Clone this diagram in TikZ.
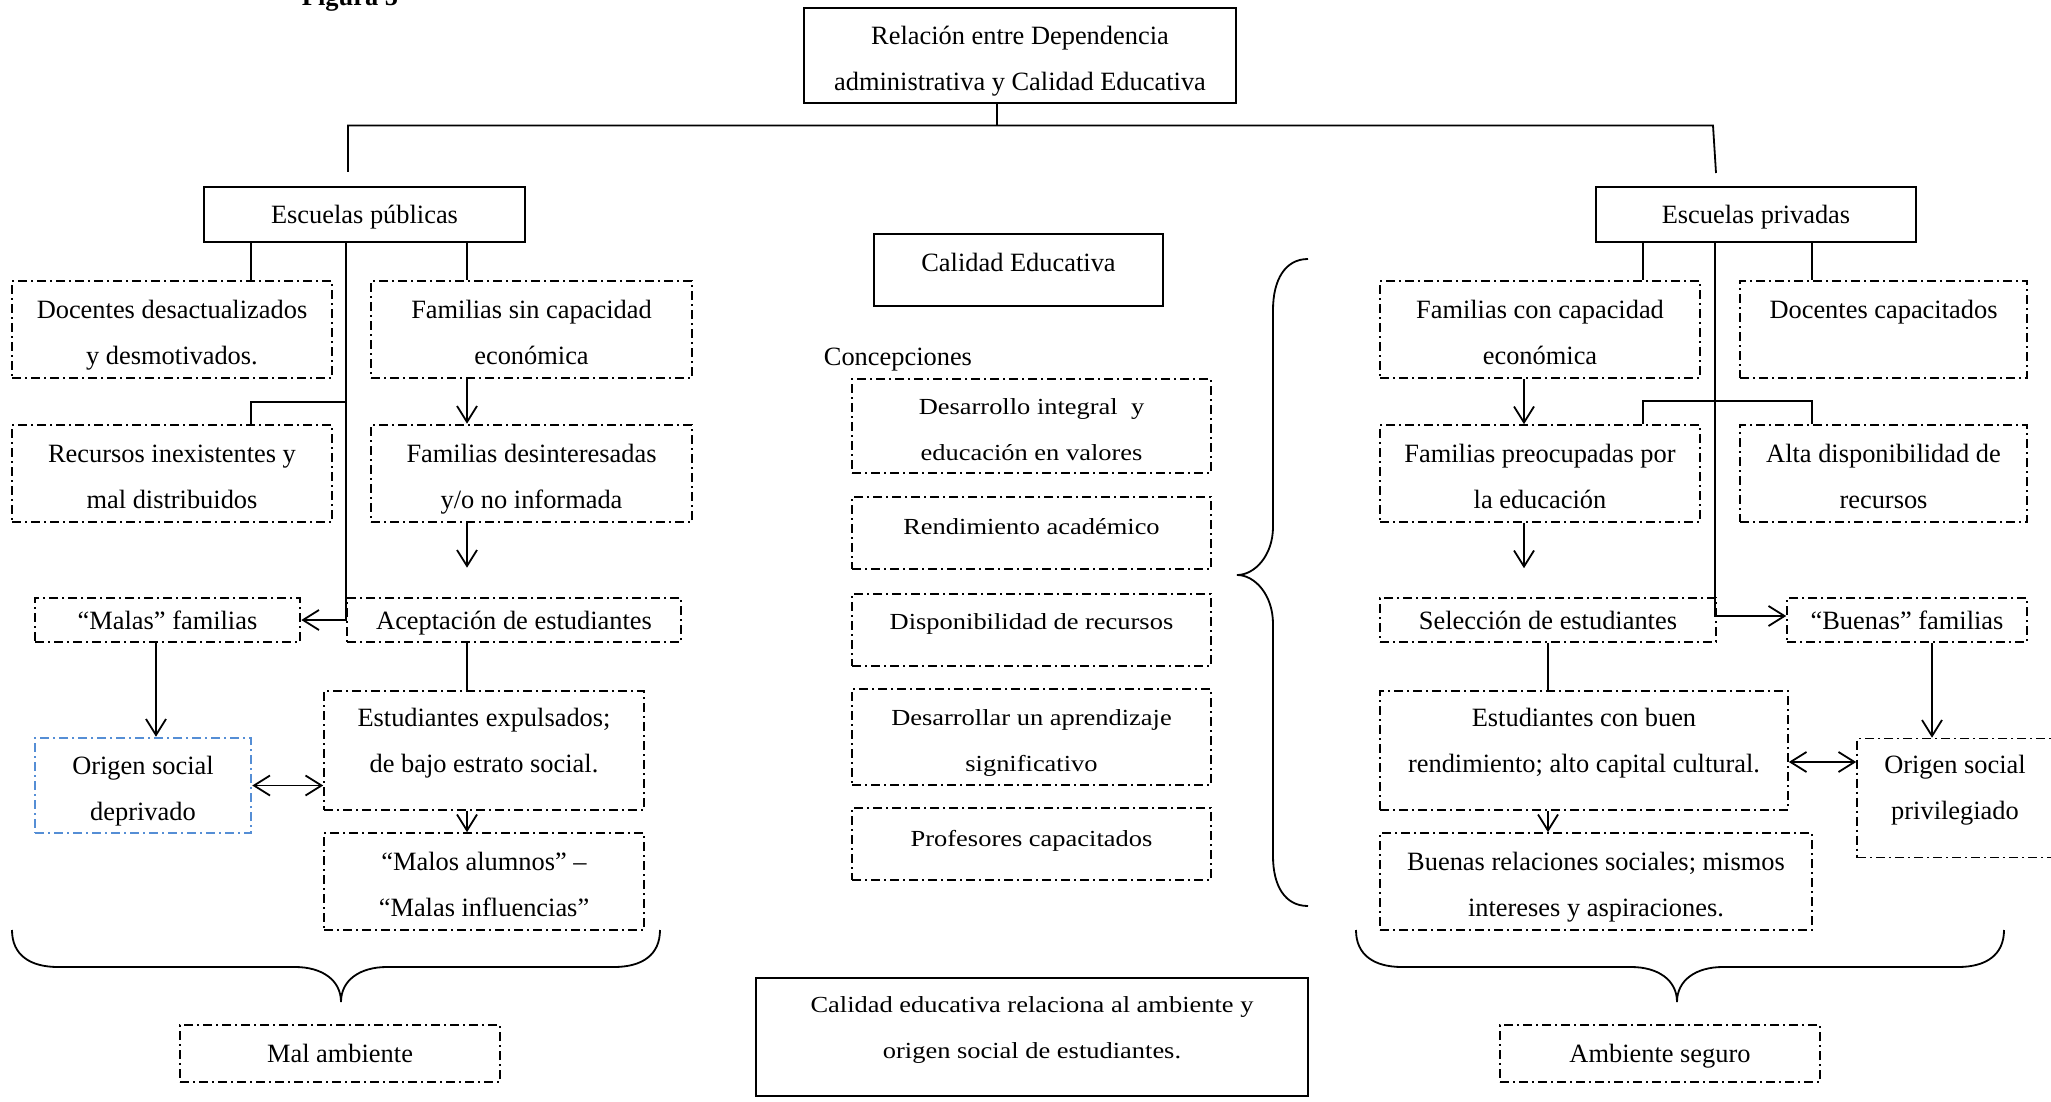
\documentclass[tikz,border=0pt]{standalone}
\usepackage{fontspec}
\setmainfont{Liberation Serif}
\newfontfamily\widefont[FakeStretch=1.15]{Liberation Serif}
\usetikzlibrary{arrows.meta,calc,positioning}
\definecolor{origblue}{RGB}{85,142,213}
\newcommand\boxup{\rule{0pt}{14.8pt}}
\newcommand\boxdn{\rule[-3pt]{0pt}{3pt}}
\tikzstyle{solidbox} = [rectangle, draw, line width=1pt, align=center, inner sep=0pt]
\tikzstyle{darkdash} = [rectangle, draw, line width=1.3pt, align=center, inner sep=0pt,
    dash pattern=on 4.5pt off 2pt on 1pt off 2pt]
\tikzstyle{lightdash} = [rectangle, draw, line width=0.8pt, align=center, inner sep=0pt,
    dash pattern=on 4.5pt off 2pt on 1pt off 2pt]
\tikzstyle{bluedash} = [darkdash, draw=origblue]
\tikzstyle{widetext} = [font=\widefont\fontsize{11.5}{23}\selectfont]
\tikzstyle{oneline} = [text height=12.2pt, text depth=3pt]

\begin{document}
\begin{tikzpicture}[x=0.5pt, y=-0.5pt, line width=0.9pt,
                    >={Straight Barb[length=8pt,width=10pt]},
                    font=\fontsize{13.2}{23}\selectfont]
  \useasboundingbox (0,0) rectangle (2051,1102);

  \node[anchor=base, font=\bfseries\fontsize{13.2}{23}\selectfont] (fig) at (350,6) {Figura 5};
  \node[solidbox, minimum width=216pt, minimum height=47.5pt] (rel) at (1020,55.5)
       {\boxup Relación entre Dependencia\\administrativa y Calidad Educativa\boxdn};
  \node[solidbox, oneline, minimum width=160.5pt, minimum height=27.5pt] (pub) at (364.5,214.5) {Escuelas públicas};
  \node[solidbox, oneline, minimum width=160pt, minimum height=27.5pt] (priv) at (1756,214.5) {Escuelas privadas};
  \node[solidbox, minimum width=144.5pt, minimum height=36pt, text height=9pt, text depth=8pt]
       (cal) at (1018.5,270) {Calidad Educativa};

  \node[darkdash, minimum width=160pt, minimum height=48.5pt] (doc) at (172,329.5)
       {\boxup Docentes desactualizados\\y desmotivados.\boxdn};
  \node[darkdash, minimum width=160pt, minimum height=48.5pt] (rec) [node distance=72pt, below of=doc]
       {\boxup Recursos inexistentes y\\mal distribuidos\boxdn};
  \node[darkdash, minimum width=160.5pt, minimum height=48.5pt] (fsc) at (531.5,329.5)
       {\boxup Familias sin capacidad\\económica\boxdn};
  \node[darkdash, minimum width=160.5pt, minimum height=48.5pt] (fdes) [node distance=72pt, below of=fsc]
       {\boxup Familias desinteresadas\\y/o no informada\boxdn};
  \node[darkdash, oneline, minimum width=132.5pt, minimum height=22pt] (malas) at (167.5,620) {“Malas” familias};
  \node[darkdash, oneline, minimum width=167pt, minimum height=22pt] (acep) at (514,620) {Aceptación de estudiantes};
  \node[bluedash, minimum width=108pt, minimum height=47.5pt] (orig) at (143,785.5)
       {\boxup Origen social\\deprivado\boxdn};
  \node[lightdash, minimum width=160pt, minimum height=59.5pt] (expul) at (484,750.5)
       {\boxup Estudiantes expulsados;\\de bajo estrato social.\\[-10pt]\boxdn};
  \node[lightdash, minimum width=160pt, minimum height=48.5pt] (malos) [node distance=65.5pt, below of=expul]
       {\boxup “Malos alumnos” –\\“Malas influencias”\boxdn};
  \node[darkdash, oneline, minimum width=160pt, minimum height=28.5pt] (malamb) at (340,1053.5) {Mal ambiente};

  \node[anchor=west, inner sep=0pt] (conc) at (823,360) {Concepciones};
  \node[lightdash, widetext, minimum width=179.5pt, minimum height=47pt] (d1) at (1031.5,426)
       {\boxup Desarrollo integral~ y\\educación en valores\boxdn};
  \node[lightdash, widetext, minimum width=179.5pt, minimum height=36pt, text height=8pt, text depth=7pt]
       (d2) [node distance=53.5pt, below of=d1] {Rendimiento académico};
  \node[lightdash, widetext, minimum width=179.5pt, minimum height=36pt, text height=8pt, text depth=9pt]
       (d3) [node distance=48.5pt, below of=d2] {Disponibilidad de recursos};
  \node[lightdash, widetext, minimum width=179.5pt, minimum height=48pt] (d4) [node distance=53.5pt, below of=d3]
       {\boxup Desarrollar un aprendizaje\\significativo\boxdn};
  \node[lightdash, widetext, minimum width=179.5pt, minimum height=36pt, text height=8pt, text depth=6pt]
       (d5) [node distance=53.5pt, below of=d4] {Profesores capacitados};
  \node[solidbox, widetext, minimum width=276pt, minimum height=59pt] (fin) at (1032,1037)
       {\boxup Calidad educativa relaciona al ambiente y\\origen social de estudiantes.\\[-10pt]\boxdn};

  \node[lightdash, minimum width=160pt, minimum height=48.5pt] (fcc) at (1540,329.5)
       {\boxup Familias con capacidad\\económica\boxdn};
  \node[lightdash, minimum width=143.5pt, minimum height=48.5pt] (dcap) at (1883.5,329.5)
       {\boxup Docentes capacitados\\\boxdn};
  \node[lightdash, minimum width=160pt, minimum height=48.5pt] (fpre) [node distance=72pt, below of=fcc]
       {\boxup Familias preocupadas por\\la educación\boxdn};
  \node[lightdash, minimum width=143.5pt, minimum height=48.5pt] (alta) [node distance=72pt, below of=dcap]
       {\boxup Alta disponibilidad de\\recursos\boxdn};
  \node[lightdash, oneline, minimum width=168pt, minimum height=22pt] (sel) at (1548,620) {Selección de estudiantes};
  \node[lightdash, oneline, minimum width=120pt, minimum height=22pt] (buenas) at (1907,620) {“Buenas” familias};
  \node[lightdash, minimum width=204pt, minimum height=59.5pt] (econ) at (1584,750.5)
       {\boxup Estudiantes con buen\\rendimiento; alto capital cultural.\\[-10pt]\boxdn};
  \node[lightdash, minimum width=98pt, minimum height=59.5pt] (origp) at (1955,798)
       {\boxup Origen social\\privilegiado\\[-10pt]\boxdn};
  \node[lightdash, minimum width=216pt, minimum height=48.5pt] (brel) at (1596,881.5)
       {\boxup Buenas relaciones sociales; mismos\\intereses y aspiraciones.\boxdn};
  \node[lightdash, oneline, minimum width=160pt, minimum height=28.5pt] (amb) at (1660,1053.5) {Ambiente seguro};

  \coordinate (hub) at (997,125.5);
  \coordinate (ltop) at (348,172);
  \coordinate (rbend) at (1713,125.5);
  \coordinate (rtop) at (1716,173);
  \draw (hub |- rel.south) -- (hub);
  \draw (ltop) -- (ltop |- hub) -- (rbend) -- (rtop);

  \coordinate (lb) at ($(doc.north)+(79,0)$);
  \coordinate (rb) at ($(fsc.north)+(-64.5,0)$);
  \coordinate (mb) at ($(malas.south)+(-11.5,0)$);
  \draw (lb |- pub.south) -- (lb);
  \draw (rb |- pub.south) -- (rb);
  \draw[->] (pub.south -| acep.west) -- (acep.west |- malas.east) -- (malas.east);
  \draw ($(acep.west |- rec.north)+(0,-22)$) -| (lb |- rec.north);
  \draw[->] (rb |- fsc.south) -- (rb |- fdes.north);
  \draw[->] (rb |- fdes.south) -- ($(rb |- acep.north)+(0,-29)$);
  \draw (rb |- acep.south) -- (rb |- expul.north);
  \draw[->] (rb |- expul.south) -- (rb |- malos.north);
  \draw[->] (mb) -- (mb |- orig.north);
  \draw[<->] (orig.east) -- (orig.east -| expul.west);

  \coordinate (rt) at ($(priv.south)+(-41,0)$);
  \coordinate (fb) at ($(fcc.north)+(103,0)$);
  \coordinate (db) at ($(dcap.north)+(-71.5,0)$);
  \coordinate (fa) at ($(fcc.south)+(-16,0)$);
  \coordinate (bb) at ($(buenas.south)+(25,0)$);
  \coordinate (eo) at ($(econ.east)+(0,11.5)$);
  \draw[->] (rt) -- ($(rt |- buenas.west)+(0,-4)$) -- ($(buenas.west)+(0,-4)$);
  \draw (fb |- priv.south) -- (fb);
  \draw (db |- priv.south) -- (db);
  \draw (fb |- fpre.north) -- ($(fb |- fpre.north)+(0,-23)$) -| (db |- alta.north);
  \draw[->] (fa) -- (fa |- fpre.north);
  \draw[->] (fa |- fpre.south) -- ($(fa |- sel.north)+(0,-29)$);
  \draw (sel.south) -- (sel.south |- econ.north);
  \draw[->] (sel.south |- econ.south) -- (sel.south |- brel.north);
  \draw[->] (bb) -- (bb |- origp.north);
  \draw[<->] (eo) -- (eo -| origp.west);

  \draw (12,930) .. controls (12,955) and (30,967) .. (58,967) -- (295,967)
        .. controls (322,967) and (341,980) .. (341,1002)
        .. controls (341,980) and (360,967) .. (387,967) -- (614,967)
        .. controls (642,967) and (660,955) .. (660,930);
  \draw (1356,930) .. controls (1356,955) and (1374,967) .. (1402,967) -- (1631,967)
        .. controls (1658,967) and (1677,980) .. (1677,1002)
        .. controls (1677,980) and (1696,967) .. (1723,967) -- (1958,967)
        .. controls (1986,967) and (2004,955) .. (2004,930);
  \draw (1308,259) .. controls (1285,259) and (1273,280) .. (1273,310) -- (1273,527)
        .. controls (1273,555) and (1255,575) .. (1237,575)
        .. controls (1255,575) and (1273,595) .. (1273,624) -- (1273,856)
        .. controls (1273,886) and (1285,906) .. (1308,906);
\end{tikzpicture}
\end{document}
